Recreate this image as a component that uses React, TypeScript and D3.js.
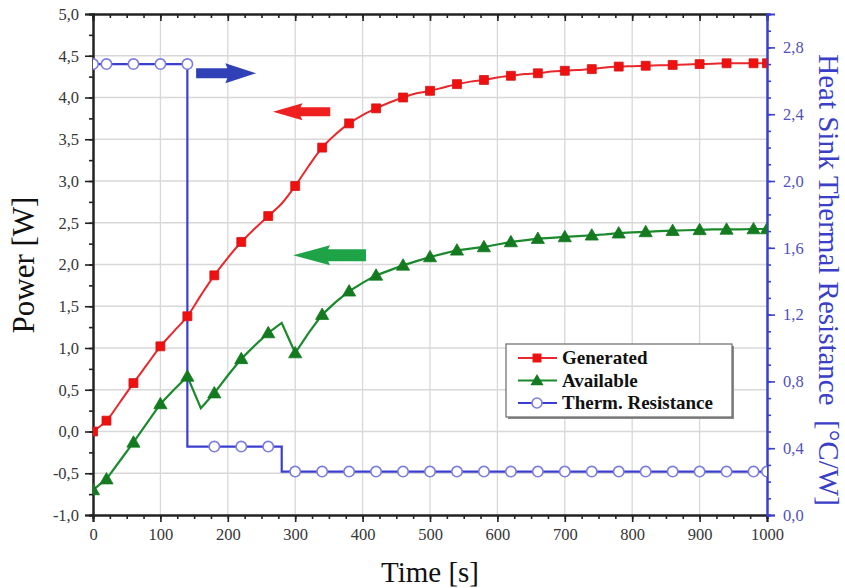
import { useEffect, useRef } from "react";
import * as d3 from "d3";

// time axis in seconds, one point every 20 s
const times = d3.range(0, 1001, 20);

// Generated power [W]
const generated = [
  0.0, 0.13, 0.35, 0.58, 0.8, 1.02, 1.2, 1.38, 1.63, 1.87, 2.08, 2.27, 2.43, 2.58, 2.73, 2.94,
  3.18, 3.4, 3.56, 3.69, 3.79, 3.87, 3.94, 4.0, 4.05, 4.08, 4.12, 4.16, 4.19, 4.21, 4.24, 4.26,
  4.28, 4.29, 4.31, 4.32, 4.33, 4.34, 4.36, 4.37, 4.375, 4.38, 4.385, 4.39, 4.395, 4.4, 4.405,
  4.41, 4.41, 4.41, 4.41,
];

// Available power [W]
const available = [
  -0.7, -0.57, -0.35, -0.13, 0.1, 0.33, 0.5, 0.66, 0.28, 0.46, 0.67, 0.87, 1.03, 1.18, 1.3, 0.94,
  1.18, 1.4, 1.55, 1.68, 1.78, 1.87, 1.93, 1.99, 2.04, 2.09, 2.13, 2.17, 2.19, 2.21, 2.24, 2.27,
  2.29, 2.31, 2.32, 2.33, 2.34, 2.35, 2.36, 2.375, 2.385, 2.39, 2.4, 2.405, 2.41, 2.415, 2.42,
  2.42, 2.42, 2.425, 2.425,
];

// Heat sink thermal resistance [°C/W], as step breakpoints
const thermTimes = [0, 140, 140, 280, 280, 1000];
const thermValues = [2.7, 2.7, 0.41, 0.41, 0.26, 0.26];

// axis ticks
const xMajor = d3.range(0, 1001, 100);
const xMinor = d3.range(0, 1001, 25);
const yMajor = d3.range(-1, 5.01, 0.5);
const yMinor = d3.range(-1, 5.01, 0.25);
const rMajor = d3.range(0, 2.81, 0.4);
const rMinor = d3.range(0, 3.01, 0.1);

// arrows: [start time, end time, power level], tip at end
const arrows = [
  { from: 153, to: 242, level: 4.29, color: "#3041b8", shaft: 5, head: 10 },
  { from: 352, to: 267, level: 3.83, color: "#ee2020", shaft: 4.5, head: 8.5 },
  { from: 405, to: 297, level: 2.11, color: "#1fa347", shaft: 6, head: 10 },
];

const legendItems = ["Generated", "Available", "Therm. Resistance"];

const RED = "#e8282c";
const GREEN = "#1b8a2c";
const BLUE = "#3b3fd0";
const SERIF = "'Liberation Serif', 'Times New Roman', serif";

export default function App() {
  const ref = useRef<SVGSVGElement>(null);

  useEffect(() => {
    if (!ref.current) return;
    const svg = d3.select(ref.current);
    svg.selectAll("*").remove();

    const left = 93;
    const right = 767;
    const top = 14;
    const bottom = 515;

    const x = d3.scaleLinear().domain([0, 1000]).range([left, right]);
    const y = d3.scaleLinear().domain([-1, 5]).range([bottom, top]);
    const yr = d3.scaleLinear().domain([0, 3]).range([bottom, top]);

    const loc = d3.formatLocale({
      decimal: ",",
      thousands: ".",
      grouping: [3],
      currency: ["", ""],
      minus: "-",
    });
    const f1 = loc.format(".1f");

    svg
      .append("defs")
      .append("clipPath")
      .attr("id", "plot")
      .append("rect")
      .attr("x", left)
      .attr("y", top)
      .attr("width", right - left)
      .attr("height", bottom - top);

    // grid
    const grid = svg.append("g").attr("stroke", "#d8d8d8").attr("stroke-width", 1.3);
    xMajor.slice(1, -1).forEach((t) => {
      grid.append("line").attr("x1", x(t)).attr("x2", x(t)).attr("y1", top).attr("y2", bottom);
    });
    yMajor.slice(1, -1).forEach((v) => {
      grid.append("line").attr("x1", left).attr("x2", right).attr("y1", y(v)).attr("y2", y(v));
    });

    // axes
    const styleAxis = (g: any, color: string) => {
      g.attr("font-family", SERIF).attr("font-size", 16.5);
      g.select(".domain").attr("stroke", color).attr("stroke-width", 2);
      g.selectAll(".tick line").attr("stroke", color).attr("stroke-width", 1.6);
      g.selectAll("text")
        .attr("font-family", SERIF)
        .attr("font-size", 16.5)
        .attr("fill", color === "#222" ? "#363636" : "#5050c0");
    };

    // bottom
    svg
      .append("g")
      .attr("transform", `translate(0,${bottom})`)
      .call(d3.axisBottom(x).tickValues(xMinor).tickSize(4).tickFormat(() => ""))
      .call((g) => styleAxis(g, "#222"));
    svg
      .append("g")
      .attr("transform", `translate(0,${bottom})`)
      .call(d3.axisBottom(x).tickValues(xMajor).tickSize(7).tickPadding(6).tickFormat(d3.format("d")))
      .call((g) => styleAxis(g, "#222"));

    // top
    svg
      .append("g")
      .attr("transform", `translate(0,${top})`)
      .call(d3.axisTop(x).tickValues(xMinor).tickSize(-4).tickFormat(() => ""))
      .call((g) => styleAxis(g, "#222"));
    svg
      .append("g")
      .attr("transform", `translate(0,${top})`)
      .call(d3.axisTop(x).tickValues(xMajor).tickSize(-7).tickFormat(() => ""))
      .call((g) => styleAxis(g, "#222"));

    // left
    svg
      .append("g")
      .attr("transform", `translate(${left},0)`)
      .call(d3.axisLeft(y).tickValues(yMinor).tickSize(4).tickFormat(() => ""))
      .call((g) => styleAxis(g, "#222"));
    svg
      .append("g")
      .attr("transform", `translate(${left},0)`)
      .call(d3.axisLeft(y).tickValues(yMajor).tickSize(8).tickPadding(6).tickFormat((d) => f1(+d)))
      .call((g) => styleAxis(g, "#222"));

    // right
    svg
      .append("g")
      .attr("transform", `translate(${right},0)`)
      .call(d3.axisRight(yr).tickValues(rMinor).tickSize(4).tickFormat(() => ""))
      .call((g) => styleAxis(g, BLUE));
    svg
      .append("g")
      .attr("transform", `translate(${right},0)`)
      .call(d3.axisRight(yr).tickValues(rMajor).tickSize(8).tickPadding(8).tickFormat((d) => f1(+d)))
      .call((g) => styleAxis(g, BLUE));

    // series
    const plot = svg.append("g").attr("clip-path", "url(#plot)");
    const isMarker = (t: number) => t === 0 || t === 1000 || (t - 20) % 40 === 0;

    const line = d3
      .line<number>()
      .x((_, i) => x(times[i]))
      .curve(d3.curveCatmullRom.alpha(0.5));

    plot
      .append("path")
      .attr("d", line.y((d) => y(d))(generated))
      .attr("fill", "none")
      .attr("stroke", RED)
      .attr("stroke-width", 2);

    plot
      .append("path")
      .attr("d", d3.line<number>().x((_, i) => x(times[i])).y((d) => y(d))(available))
      .attr("fill", "none")
      .attr("stroke", GREEN)
      .attr("stroke-width", 2.2);

    const thermLine = d3
      .line<number>()
      .x((_, i) => x(thermTimes[i]))
      .y((d) => yr(d));
    plot
      .append("path")
      .attr("d", thermLine(thermValues))
      .attr("fill", "none")
      .attr("stroke", BLUE)
      .attr("stroke-width", 2.2);

    const thermAt = (t: number) => {
      let v = thermValues[0];
      for (let i = 0; i < thermTimes.length; i++) if (t >= thermTimes[i]) v = thermValues[i];
      return v;
    };

    const markTimes = times.filter(isMarker);
    const square = d3.symbol(d3.symbolSquare, 80)();
    const tri = d3.symbol(d3.symbolTriangle, 75)();

    markTimes.forEach((t) => {
      const i = times.indexOf(t);
      plot
        .append("path")
        .attr("d", square)
        .attr("transform", `translate(${x(t)},${y(generated[i])})`)
        .attr("fill", "#f01010")
        .attr("stroke", "#d01818")
        .attr("stroke-width", 0.8);
      plot
        .append("path")
        .attr("d", tri)
        .attr("transform", `translate(${x(t)},${y(available[i]) + 1})`)
        .attr("fill", "#137a1f")
        .attr("stroke", "#137a1f")
        .attr("stroke-width", 0.8);
      const tv = t === 140 ? 2.7 : thermAt(t);
      plot
        .append("circle")
        .attr("cx", x(t))
        .attr("cy", yr(tv))
        .attr("r", 5.2)
        .attr("fill", "#fff")
        .attr("stroke", "#7c7ce0")
        .attr("stroke-width", 1.6);
    });

    // arrows
    arrows.forEach((a) => {
      const x0 = x(a.from);
      const x1 = x(a.to);
      const yc = y(a.level);
      const dir = Math.sign(x1 - x0);
      const len = Math.abs(x1 - x0);
      const xh = x1 - dir * len * 0.48;
      const p = d3.path();
      p.moveTo(x0, yc - a.shaft);
      p.lineTo(xh, yc - a.shaft);
      p.lineTo(xh - dir * 2, yc - a.head);
      p.lineTo(x1, yc);
      p.lineTo(xh - dir * 2, yc + a.head);
      p.lineTo(xh, yc + a.shaft);
      p.lineTo(x0, yc + a.shaft);
      p.closePath();
      svg.append("path").attr("d", p.toString()).attr("fill", a.color);
    });

    // legend
    const lg = svg.append("g").attr("transform", "translate(506,344)");
    lg.append("rect").attr("x", 2).attr("y", 2).attr("width", 226).attr("height", 73).attr("fill", "#8a8a8a");
    lg.append("rect")
      .attr("width", 226)
      .attr("height", 73)
      .attr("fill", "#fff")
      .attr("stroke", "#6a6a6a")
      .attr("stroke-width", 1.2);
    const colors = [RED, GREEN, BLUE];
    legendItems.forEach((name, i) => {
      const ly = 14 + i * 22.5;
      lg.append("line")
        .attr("x1", 12)
        .attr("x2", 51)
        .attr("y1", ly)
        .attr("y2", ly)
        .attr("stroke", colors[i])
        .attr("stroke-width", 2);
      if (i === 0)
        lg.append("path").attr("d", square).attr("transform", `translate(31,${ly})`).attr("fill", "#f01010");
      if (i === 1)
        lg.append("path").attr("d", tri).attr("transform", `translate(31,${ly + 1})`).attr("fill", "#137a1f");
      if (i === 2)
        lg.append("circle")
          .attr("cx", 31)
          .attr("cy", ly)
          .attr("r", 5)
          .attr("fill", "#fff")
          .attr("stroke", "#7c7ce0")
          .attr("stroke-width", 1.6);
      lg.append("text")
        .attr("x", 56)
        .attr("y", ly + 6)
        .attr("font-family", SERIF)
        .attr("font-weight", "bold")
        .attr("font-size", 19)
        .attr("fill", "#111")
        .text(name);
    });

    // axis titles
    svg
      .append("text")
      .attr("transform", `translate(34,265) rotate(-90)`)
      .attr("text-anchor", "middle")
      .attr("font-family", SERIF)
      .attr("font-size", 31)
      .attr("fill", "#111")
      .text("Power [W]");
    svg
      .append("text")
      .attr("x", 430)
      .attr("y", 582)
      .attr("text-anchor", "middle")
      .attr("font-family", SERIF)
      .attr("font-size", 29)
      .attr("fill", "#111")
      .text("Time [s]");
    svg
      .append("text")
      .attr("transform", `translate(819,280) rotate(90)`)
      .attr("text-anchor", "middle")
      .attr("font-family", SERIF)
      .attr("font-size", 29)
      .attr("fill", "#3b3fc8")
      .attr("xml:space", "preserve")
      .text("Heat Sink Thermal Resistance  [°C/W]");
  }, []);

  return (
    <div style={{ position: "fixed", left: 0, top: 0, background: "#fff" }}>
      <svg ref={ref} width={845} height={588} style={{ display: "block" }} />
    </div>
  );
}
